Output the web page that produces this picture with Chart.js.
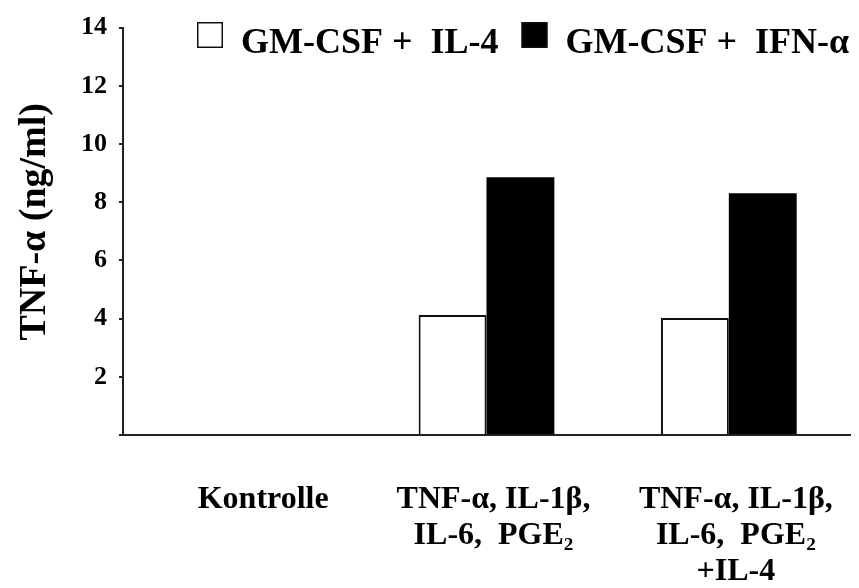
<!DOCTYPE html>
<html>
<head>
<meta charset="utf-8">
<script src="https://cdn.jsdelivr.net/npm/chart.js@4.4.0/dist/chart.umd.min.js"></script>
<style>
  body { margin: 0; background: #fff; }
  canvas { display: block; }
</style>
</head>
<body>
<canvas id="tnfChart" width="859" height="588"></canvas>
<script>
// Daten
var kategorien = ['   Kontrolle', ['TNF-α, IL-1β,', 'IL-6,  PGE₂'], ['TNF-α, IL-1β,', 'IL-6,  PGE₂', '+IL-4']];
var serieNamen = ['GM-CSF +  IL-4', 'GM-CSF +  IFN-α'];
var werteIL4 = [0, 4.12, 4.02];
var werteIFN = [0, 8.86, 8.31];
var yTicks = [2, 4, 6, 8, 10, 12, 14];

var SERIF = "'Liberation Serif', 'Times New Roman', serif";
Chart.defaults.font.family = SERIF;
Chart.defaults.color = '#000';

// Legende oben rechts (liegt ueber dem Plotbereich, darum eigenes Plugin)
var legendePlugin = {
  id: 'legende',
  afterDraw: function (chart) {
    var ctx = chart.ctx;
    var ds = chart.data.datasets;
    var x = 197, top = 22, box = 26;
    ctx.save();
    ctx.font = 'bold 36px ' + SERIF;
    ctx.textBaseline = 'alphabetic';
    for (var i = 0; i < ds.length; i++) {
      ctx.fillStyle = ds[i].backgroundColor;
      ctx.fillRect(x, top, box, box);
      ctx.lineWidth = 1.5;
      ctx.strokeStyle = '#111';
      ctx.strokeRect(x + 0.75, top + 0.75, box - 1.5, box - 1.5);
      x += box + 18;
      ctx.fillStyle = '#000';
      ctx.fillText(ds[i].label, x, 53);
      x += ctx.measureText(ds[i].label).width + 23;
    }
    ctx.restore();
  }
};

var ctx = document.getElementById('tnfChart').getContext('2d');
var tnfChart = new Chart(ctx, {
  type: 'bar',
  data: {
    labels: kategorien,
    datasets: [{
      label: serieNamen[0],
      data: werteIL4,
      backgroundColor: '#ffffff',
      borderColor: '#111111',
      borderWidth: 2,
      categoryPercentage: 0.56,
      barPercentage: 1.0
    }, {
      label: serieNamen[1],
      data: werteIFN,
      backgroundColor: '#000000',
      borderColor: '#000000',
      borderWidth: 0,
      categoryPercentage: 0.56,
      barPercentage: 1.0
    }]
  },
  options: {
    responsive: false,
    animation: false,
    layout: { padding: { top: 24, right: 9, left: 0, bottom: 0 } },
    plugins: {
      legend: { display: false },
      tooltip: { enabled: false }
    },
    scales: {
      x: {
        grid: { display: false },
        border: { display: true, color: '#222', width: 2 },
        ticks: {
          font: { size: 32, weight: 'bold', lineHeight: 1.125 },
          color: '#000',
          padding: 39,
          labelOffset: 7,
          maxRotation: 0,
          autoSkip: false
        },
        afterFit: function (scale) {
          scale.height = 153;
          scale.paddingLeft = 0;
          scale.paddingRight = 0;
        }
      },
      y: {
        min: 0,
        max: 14,
        ticks: {
          stepSize: 2,
          font: { size: 26, weight: 'bold' },
          color: '#000',
          padding: 12,
          callback: function (v) { return yTicks.indexOf(v) >= 0 ? v : ''; }
        },
        grid: { drawOnChartArea: false, drawTicks: true, tickLength: 4, color: '#222', lineWidth: 2 },
        border: { display: true, color: '#222', width: 2 },
        title: {
          display: true,
          text: '  TNF-α (ng/ml)',
          font: { size: 38, weight: 'bold' },
          color: '#000',
          padding: { top: 12, bottom: 0 }
        },
        afterFit: function (scale) { scale.width = 123; }
      }
    }
  },
  plugins: [legendePlugin]
});
</script>
</body>
</html>
